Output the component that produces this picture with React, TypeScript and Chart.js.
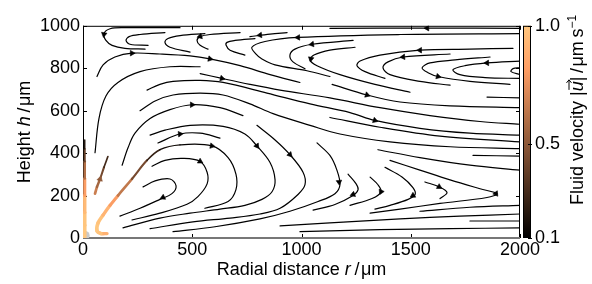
import React, { useEffect, useRef } from "react";
import { Chart, registerables } from "chart.js";

Chart.register(...registerables);

type Pt = [number, number];
type Arrow = [number, number, number, number];

const FONT = '"Liberation Sans", Arial, Helvetica, sans-serif';

// ---- axes ----
const xTickValues = [0, 500, 1000, 1500, 2000];
const yTickValues = [0, 200, 400, 600, 800, 1000];
const speedTicks = [0.1, 0.5, 1.0];
const speedMin = 0.1;
const speedMax = 1.0;

// ---- streamlines: [r (µm), h (µm)] ----
const top1: Pt[] = [[2000, 988], [1590, 989], [1130, 988]];
const top2: Pt[] = [[764, 949], [856, 961], [934, 968]];
const t1: Pt[] = [[444, 991], [192, 991], [124, 986], [96, 963], [105, 931], [133, 908], [192, 894], [284, 890]];
const t2: Pt[] = [[375, 968], [261, 959], [211, 949], [197, 931], [215, 913], [298, 908]];
const t3: Pt[] = [[558, 963], [444, 954], [389, 940], [375, 922], [398, 899], [490, 876]];
const t4: Pt[] = [[719, 968], [581, 959], [536, 949], [522, 931], [536, 908], [572, 890]];
const t5: Pt[] = [[787, 940], [696, 931], [659, 922], [655, 908], [673, 885], [741, 862]];
const u2: Pt[] = [[2000, 963], [1451, 959], [984, 945], [833, 926], [773, 899], [792, 867], [819, 844], [879, 816], [1025, 788], [1130, 761]];
const u3: Pt[] = [[1236, 931], [1048, 913], [970, 890], [947, 862], [961, 830], [1016, 798]];
const u4: Pt[] = [[1245, 899], [1130, 885], [1057, 862], [1039, 839], [1071, 812], [1176, 770], [1336, 724], [1497, 687]];
const u5: Pt[] = [[1968, 894], [1771, 890], [1542, 885], [1359, 862], [1268, 834], [1254, 812], [1291, 784], [1382, 752]];
const u6: Pt[] = [[1680, 867], [1465, 853], [1396, 830], [1373, 802], [1405, 770], [1542, 738], [1680, 720]];
const u7: Pt[] = [[1863, 853], [1703, 839], [1588, 825], [1552, 802], [1579, 779], [1625, 761], [1771, 738], [1954, 724]];
const u8: Pt[] = [[2000, 834], [1849, 825], [1748, 812], [1693, 793], [1725, 770], [1840, 756], [2000, 752]];
const u9: Pt[] = [[2000, 802], [1968, 798], [1959, 784], [2000, 770]];
const s1: Pt[] = [[64, 761], [92, 816], [146, 853], [224, 871], [352, 867], [490, 858], [581, 844], [719, 812], [856, 770], [993, 733]];
const d1: Pt[] = [[55, 402], [73, 563], [105, 669], [160, 733], [261, 784], [398, 807], [536, 807]];
const a11: Pt[] = [[536, 775], [636, 752], [764, 724], [902, 697], [1130, 660], [1359, 614], [1588, 577], [1817, 549], [2000, 536]];
const a10: Pt[] = [[293, 697], [352, 724], [412, 738], [536, 743], [641, 733], [842, 683], [1039, 632], [1222, 591], [1336, 554], [1542, 517], [1771, 494], [2000, 485]];
const b2: Pt[] = [[1140, 724], [1300, 674], [1451, 641], [1680, 623], [2000, 614]];
const b3: Pt[] = [[1849, 664], [2000, 660]];
const d2: Pt[] = [[179, 343], [206, 425], [238, 494], [307, 563], [398, 605], [499, 628], [627, 614], [732, 577]];
const a9: Pt[] = [[261, 600], [330, 646], [412, 674], [536, 683], [641, 674], [764, 632], [870, 586], [1039, 531], [1176, 490], [1405, 453], [1680, 430], [2000, 421]];
const rm: Pt[] = [[1130, 568], [1359, 522], [1634, 480], [2000, 453]];
const rs: Pt[] = [[1350, 416], [1542, 379], [1771, 343], [2000, 320]];
const rsh: Pt[] = [[1785, 389], [2000, 386]];
const a4: Pt[] = [[343, 448], [444, 490], [536, 494], [627, 471]];
const a5: Pt[] = [[307, 485], [375, 508], [490, 531], [641, 526], [741, 490], [796, 434], [856, 356], [879, 274], [865, 218], [819, 182], [741, 154], [627, 136], [490, 117], [352, 94], [183, 48]];
const a2: Pt[] = [[316, 338], [375, 366], [458, 375], [536, 361], [568, 310], [568, 255], [526, 195], [476, 159], [352, 117], [224, 85]];
const a1: Pt[] = [[275, 241], [330, 269], [398, 278], [426, 246], [407, 209], [352, 182], [261, 140], [169, 103]];
const a6: Pt[] = [[796, 531], [879, 462], [947, 393], [1007, 310], [1016, 251], [984, 205], [902, 140], [810, 113], [673, 94], [503, 76], [307, 44]];
const n3: Pt[] = [[1071, 448], [1130, 389], [1162, 320], [1176, 251], [1153, 209], [1076, 172], [947, 126], [810, 90], [604, 53], [412, 30]];
const n4: Pt[] = [[1213, 301], [1250, 255], [1259, 228], [1236, 200], [1153, 158], [1053, 131]];
const n5: Pt[] = [[1314, 287], [1350, 251], [1364, 218], [1323, 186], [1222, 154]];
const n6: Pt[] = [[1382, 333], [1460, 287], [1510, 237], [1520, 205], [1488, 182], [1405, 154], [1336, 136]];
const n7: Pt[] = [[1565, 264], [1630, 241], [1666, 214], [1634, 186]];
const n8: Pt[] = [[1405, 366], [1542, 320], [1680, 274], [1817, 232], [1895, 209], [1849, 191], [1634, 163], [1451, 136], [1314, 117]];
const f1: Pt[] = [[2000, 154], [1771, 145], [1542, 126]];
const f2: Pt[] = [[2000, 113], [1725, 103], [1451, 90], [1130, 71], [902, 57]];
const f3: Pt[] = [[1771, 80], [2000, 80]];
const f4: Pt[] = [[2000, 48], [1680, 44], [1359, 39], [993, 30]];

// fast streamlines near the origin, with their speeds (µm/s)
const o1: Pt[] = [[110, 21], [82, 21], [64, 34], [69, 71], [92, 108], [124, 154], [160, 200], [224, 278], [293, 366], [352, 416], [444, 439], [590, 434], [664, 379], [700, 301], [700, 228], [664, 172], [558, 140]];
const o1Speed = [0.85, 0.95, 1.0, 1.0, 0.95, 0.88, 0.74, 0.55, 0.32, 0.18, 0.12, 0.1, 0.1, 0.1, 0.1, 0.1, 0.1];
const o2: Pt[] = [[55, 209], [64, 241], [78, 278], [96, 333], [114, 384]];
const o2Speed = [0.72, 0.62, 0.5, 0.35, 0.22];
const wall: Pt[] = [[8, 0], [8, 60], [8, 120], [8, 200], [8, 280], [8, 360], [8, 420], [8, 462]];
const wallSpeed = [1.0, 1.0, 0.98, 0.9, 0.72, 0.48, 0.28, 0.12];
const originPatch: Pt[] = [[10, 12]];

// arrows: [r, h, direction (deg, screen, 0 = right, 90 = down), speed]
const arrows: Arrow[] = [
  [1575, 989, 180, 0.1], [810, 956, 174, 0.1], [96, 960, 100, 0.1], [536, 950, 165, 0.1],
  [984, 945, 178, 0.1], [1048, 913, 172, 0.1], [1043, 844, 100, 0.1], [1542, 885, 180, 0.1],
  [1465, 853, 175, 0.1], [1625, 761, 15, 0.1], [1849, 825, 178, 0.1], [224, 871, 0, 0.1],
  [581, 844, 12, 0.1], [636, 752, 13, 0.1], [1336, 554, 18, 0.1], [1300, 674, 17, 0.1],
  [499, 628, 0, 0.1], [444, 490, -5, 0.1], [796, 434, 55, 0.1], [590, 434, 10, 0.1],
  [536, 361, 30, 0.1], [366, 191, 155, 0.1], [947, 393, 48, 0.1], [1172, 264, 85, 0.1],
  [1236, 205, 160, 0.1], [1364, 218, 115, 0.1], [1510, 200, 150, 0.1], [1630, 241, 30, 0.1],
  [1890, 209, 175, 0.1], [78, 278, -75, 0.5],
];

const blackLines: Pt[][] = [
  top1, top2, t1, t2, t3, t4, t5, u2, u3, u4, u5, u6, u7, u8, u9, s1, d1, a11, a10, b2, b3,
  d2, a9, rm, rs, rsh, a4, a5, a2, a1, a6, n3, n4, n5, n6, n7, n8, f1, f2, f3, f4,
];
const speedLines: { pts: Pt[]; speed: number[] }[] = [
  { pts: wall, speed: wallSpeed },
  { pts: o1, speed: o1Speed },
  { pts: o2, speed: o2Speed },
];

function norm(v: number) {
  return Math.max(0, Math.min(1, (v - speedMin) / (speedMax - speedMin)));
}
function copper(v: number) {
  const t = norm(v);
  const r = Math.min(1, 1.25 * t);
  const g = 0.7812 * t;
  const b = 0.4975 * t;
  return `rgb(${Math.round(r * 255)},${Math.round(g * 255)},${Math.round(b * 255)})`;
}
function widthFor(v: number) {
  return 1.2 + 2.4 * norm(v);
}

type Part = { text: string; italic?: boolean; size?: number; dy?: number; vec?: boolean };

function drawRich(ctx: CanvasRenderingContext2D, parts: Part[], x: number, y: number, rot: number) {
  ctx.save();
  ctx.translate(x, y);
  ctx.rotate(rot);
  ctx.fillStyle = "#000";
  ctx.strokeStyle = "#000";
  ctx.textBaseline = "alphabetic";
  ctx.textAlign = "left";
  const fonts = parts.map((p) => `${p.italic ? "italic " : ""}${p.size ?? 18}px ${FONT}`);
  const widths = parts.map((p, i) => {
    ctx.font = fonts[i];
    return ctx.measureText(p.text).width;
  });
  const total = widths.reduce((s, w) => s + w, 0);
  let cx = -total / 2;
  parts.forEach((p, i) => {
    ctx.font = fonts[i];
    ctx.fillText(p.text, cx, p.dy ?? 0);
    if (p.vec) {
      const y0 = -14;
      const xa = cx + 1.5;
      const xb = cx + widths[i] + 1.5;
      ctx.lineWidth = 1;
      ctx.beginPath();
      ctx.moveTo(xa, y0);
      ctx.lineTo(xb, y0);
      ctx.moveTo(xb - 3, y0 - 2.5);
      ctx.lineTo(xb, y0);
      ctx.lineTo(xb - 3, y0 + 2.5);
      ctx.stroke();
    }
    cx += widths[i];
  });
  ctx.restore();
}

const framePlugin = {
  id: "frameAndColorbar",
  beforeDatasetsDraw(chart: any) {
    const { ctx, chartArea: a, scales } = chart;
    ctx.save();
    ctx.strokeStyle = "#000";
    ctx.lineWidth = 1;
    ctx.beginPath();
    ctx.moveTo(a.left, a.top + 0.5);
    ctx.lineTo(a.right, a.top + 0.5);
    ctx.moveTo(a.right - 0.5, a.top);
    ctx.lineTo(a.right - 0.5, a.bottom);
    ctx.moveTo(a.left + 0.5, a.top);
    ctx.lineTo(a.left + 0.5, a.bottom);
    for (const v of xTickValues) {
      const px = Math.round(scales.x.getPixelForValue(v)) + 0.5;
      ctx.moveTo(px, a.bottom);
      ctx.lineTo(px, a.bottom - 4);
      ctx.moveTo(px, a.top);
      ctx.lineTo(px, a.top + 4);
    }
    for (const v of yTickValues) {
      const py = Math.round(scales.y.getPixelForValue(v)) + 0.5;
      ctx.moveTo(a.left, py);
      ctx.lineTo(a.left + 4, py);
      ctx.moveTo(a.right, py);
      ctx.lineTo(a.right - 4, py);
    }
    ctx.stroke();
    ctx.strokeStyle = "#777";
    ctx.lineWidth = 2;
    ctx.beginPath();
    ctx.moveTo(a.left, a.bottom);
    ctx.lineTo(a.right, a.bottom);
    ctx.stroke();
    ctx.restore();
  },
  afterDraw(chart: any) {
    const { ctx, chartArea: a, scales } = chart;
    const cb = scales.cb;
    const top = cb.getPixelForValue(speedMax);
    const bot = cb.getPixelForValue(speedMin);
    const x0 = a.right + 3;
    const w = 8;
    ctx.save();
    const grad = ctx.createLinearGradient(0, bot, 0, top);
    for (let i = 0; i <= 10; i++) {
      grad.addColorStop(i / 10, copper(speedMin + (i / 10) * (speedMax - speedMin)));
    }
    ctx.fillStyle = grad;
    ctx.fillRect(x0, top, w, bot - top);
    ctx.strokeStyle = "#000";
    ctx.lineWidth = 1;
    ctx.strokeRect(x0 + 0.5, top + 0.5, w - 1, bot - top - 1);
    ctx.beginPath();
    for (const v of speedTicks) {
      const py = Math.round(cb.getPixelForValue(v)) + 0.5;
      ctx.moveTo(x0 + w - 3, py);
      ctx.lineTo(x0 + w + 1, py);
    }
    ctx.stroke();
    ctx.restore();

    drawRich(ctx, [
      { text: "Radial distance " },
      { text: "r", italic: true },
      { text: "\u2009/\u200Aμm" },
    ], (a.left + a.right) / 2, 275, 0);
    drawRich(ctx, [
      { text: "Height " },
      { text: "h", italic: true },
      { text: "\u2009/\u200Aμm" },
    ], 30, (a.top + a.bottom) / 2, -Math.PI / 2);
    drawRich(ctx, [
      { text: "Fluid velocity |" },
      { text: "u", italic: true, vec: true },
      { text: "|\u2009/\u200Aμm\u2009s" },
      { text: "\u22121", size: 12, dy: -7 },
    ], 583, 110, -Math.PI / 2);
  },
};

const plainNumber = (v: any) => String(Number(v));

export default function App() {
  const ref = useRef<HTMLCanvasElement>(null);
  useEffect(() => {
    if (!ref.current) return;
    Chart.defaults.font.family = FONT;
    Chart.defaults.font.size = 18;
    Chart.defaults.color = "#000";

    const datasets: any[] = [];
    datasets.push({
      label: "arrows",
      data: arrows.map((p) => ({ x: p[0], y: p[1] })),
      showLine: false,
      pointStyle: "triangle",
      pointRadius: 3.2,
      pointHoverRadius: 3.2,
      rotation: arrows.map((p) => p[2] + 90),
      backgroundColor: arrows.map((p) => copper(p[3])),
      borderColor: arrows.map((p) => copper(p[3])),
      borderWidth: 0.6,
    });
    for (const s of speedLines) {
      datasets.push({
        data: s.pts.map((p) => ({ x: p[0], y: p[1] })),
        showLine: true,
        pointRadius: 0,
        tension: 0.35,
        borderCapStyle: "round",
        borderJoinStyle: "round",
        borderColor: copper(s.speed[0]),
        borderWidth: widthFor(s.speed[0]),
        segment: {
          borderColor: (c: any) => copper((s.speed[c.p0DataIndex] + s.speed[c.p1DataIndex]) / 2),
          borderWidth: (c: any) => widthFor((s.speed[c.p0DataIndex] + s.speed[c.p1DataIndex]) / 2),
        },
      });
    }
    for (const l of blackLines) {
      datasets.push({
        data: l.map((p) => ({ x: p[0], y: p[1] })),
        showLine: true,
        pointRadius: 0,
        tension: 0.35,
        borderCapStyle: "round",
        borderColor: "#000",
        borderWidth: 1.2,
      });
    }
    datasets.push({
      data: originPatch.map((p) => ({ x: p[0], y: p[1] })),
      showLine: false,
      pointRadius: 4.5,
      backgroundColor: "#c9c9c9",
      borderWidth: 0,
    });

    const chart = new Chart(ref.current, {
      type: "scatter",
      data: { datasets },
      options: {
        responsive: false,
        animation: false,
        events: [],
        layout: { padding: { top: 20, left: 0, right: 0, bottom: 0 } },
        plugins: { legend: { display: false }, tooltip: { enabled: false } },
        scales: {
          x: {
            type: "linear",
            min: 0,
            max: 2000,
            grid: { display: false, drawTicks: false },
            border: { display: false },
            ticks: { padding: 1, autoSkip: false, maxRotation: 0, font: { size: 18, lineHeight: 1.2 }, callback: plainNumber },
            afterBuildTicks: (s: any) => { s.ticks = xTickValues.map((v) => ({ value: v })); },
            afterFit: (s: any) => { s.height = 46; },
          },
          y: {
            type: "linear",
            min: 0,
            max: 1000,
            grid: { display: false, drawTicks: false },
            border: { display: false },
            ticks: { padding: 3, autoSkip: false, font: { size: 18, lineHeight: 1.2 }, callback: plainNumber },
            afterBuildTicks: (s: any) => { s.ticks = yTickValues.map((v) => ({ value: v })); },
            afterFit: (s: any) => { s.width = 83; },
          },
          cb: {
            type: "linear",
            position: "right",
            min: speedMin,
            max: speedMax,
            grid: { display: false, drawTicks: false },
            border: { display: false },
            ticks: {
              padding: 15,
              autoSkip: false,
              font: { size: 18, lineHeight: 1.2 },
              callback: (v: any) => Number(v).toFixed(1),
            },
            afterBuildTicks: (s: any) => { s.ticks = speedTicks.map((v) => ({ value: v })); },
            afterFit: (s: any) => { s.width = 72; },
          },
        },
      } as any,
      plugins: [framePlugin],
    });
    return () => chart.destroy();
  }, []);

  return (
    <div style={{ position: "fixed", left: 0, top: 0, width: 592, height: 284, background: "#fff" }}>
      <canvas ref={ref} width={592} height={284} style={{ display: "block", width: 592, height: 284 }} />
    </div>
  );
}
